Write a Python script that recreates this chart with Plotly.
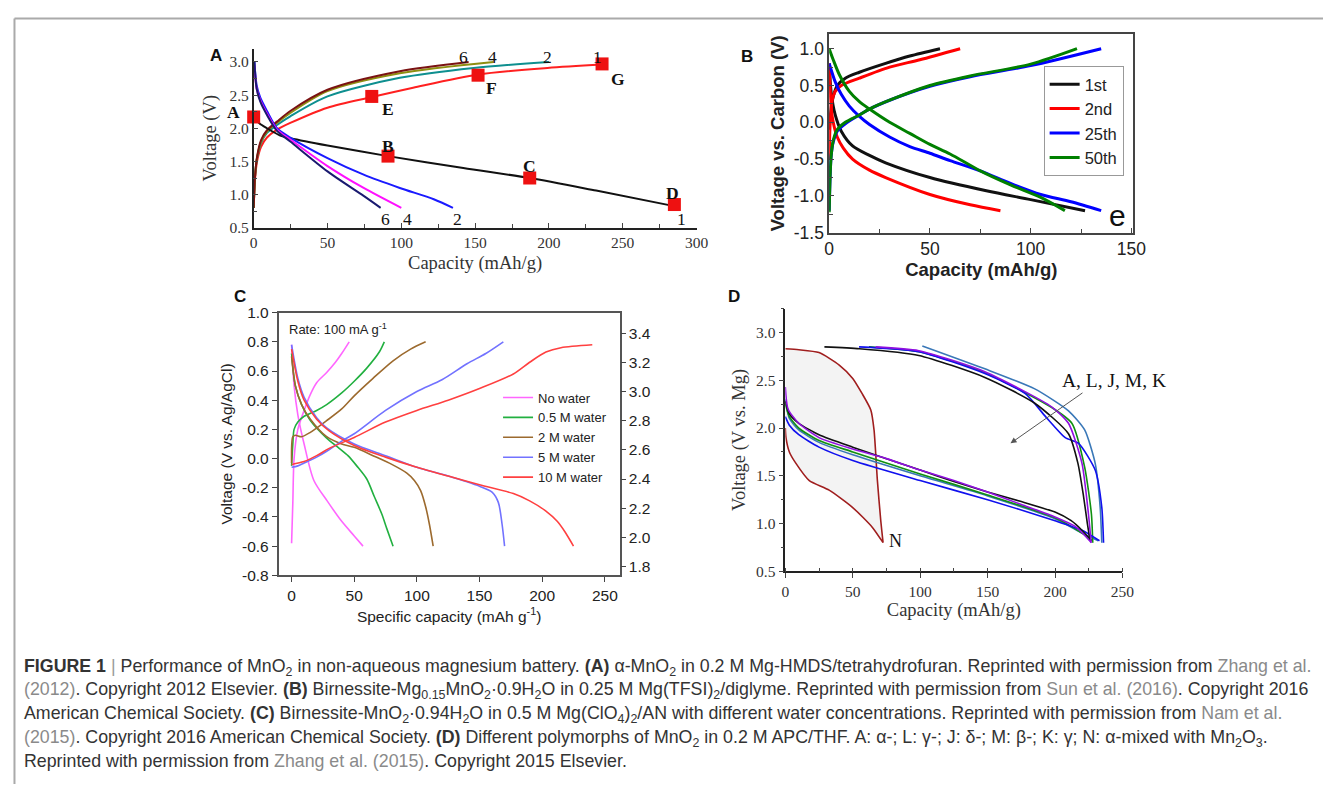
import plotly.graph_objects as go

# Figure size, and the measured mapping from figure pixels to photographed pixels
W, H = 1328, 786
SX, OXS = 0.989, 11.7
SY, OYS = 0.977, 16.0


def px(x):
    return min(max((x - OXS) / SX / W, 0.0), 1.0)


def py(y):
    return min(max(1 - (y - OYS) / SY / H, 0.0), 1.0)


# ---------------- Panel A data ----------------
a_dis1_x = [0, 4, 9, 18, 25, 50, 91, 142, 187, 232, 284]
a_dis1_y = [2.17, 2.07, 2.0, 1.89, 1.85, 1.74, 1.58, 1.40, 1.25, 1.06, 0.83]
a_dis2_x = [0.5, 2, 4.5, 9, 15.8, 24.8, 50, 74.5, 99, 122, 135]
a_dis2_y = [3.0, 2.65, 2.46, 2.26, 2.0, 1.86, 1.55, 1.30, 1.10, 0.93, 0.8]
a_dis4_x = [0.5, 2, 4.5, 9, 15.8, 24.8, 50, 74.5, 100]
a_dis4_y = [2.95, 2.6, 2.42, 2.22, 1.98, 1.83, 1.43, 1.10, 0.8]
a_dis6_x = [0.5, 2, 4.5, 9, 15.8, 24.8, 50, 74.5, 86]
a_dis6_y = [3.0, 2.6, 2.4, 2.2, 1.96, 1.8, 1.35, 0.98, 0.8]
a_chg1_x = [0, 1, 2.3, 5, 9, 15.8, 24.8, 50, 80, 108, 152, 199, 236]
a_chg1_y = [0.8, 1.25, 1.5, 1.72, 1.86, 1.98, 2.08, 2.31, 2.47, 2.61, 2.81, 2.91, 2.96]
a_chg2_x = [0, 1, 2.3, 5, 9, 15.8, 24.8, 50, 99, 149, 200]
a_chg2_y = [0.8, 1.3, 1.55, 1.78, 1.93, 2.05, 2.18, 2.48, 2.76, 2.91, 3.0]
a_chg4_x = [0, 1, 2.3, 5, 9, 15.8, 24.8, 50, 99, 162.5]
a_chg4_y = [0.8, 1.3, 1.56, 1.8, 1.95, 2.08, 2.23, 2.56, 2.83, 3.0]
a_chg6_x = [0, 1, 2.3, 5, 9, 15.8, 24.8, 50, 99, 145.6]
a_chg6_y = [0.8, 1.3, 1.57, 1.82, 1.97, 2.1, 2.26, 2.58, 2.86, 3.0]
a_mark_labels = ["A", "B", "C", "D", "E", "F", "G"]
a_mark_x = [0, 91, 187, 285, 80, 152, 236]
a_mark_y = [2.17, 1.58, 1.25, 0.85, 2.48, 2.80, 2.97]
a_mlab_x = [-8, 91, 187, 284, 91, 161, 247]
a_mlab_y = [2.24, 1.73, 1.43, 1.03, 2.29, 2.60, 2.74]
a_top_x = [142, 162, 199, 233]
a_top_t = ["6", "4", "2", "1"]
a_bot_x = [89, 104, 138, 290]
a_bot_t = ["6", "4", "2", "1"]
a_yticks = [0.5, 1.0, 1.5, 2.0, 2.5, 3.0]
a_xticks = [0, 50, 100, 150, 200, 250, 300]

# ---------------- Panel B data ----------------
b_names = ["1st", "2nd", "25th", "50th"]
b_chg1_x = [0, 1, 2, 4, 8, 15, 28, 40, 55]
b_chg1_y = [-0.1, 0.2, 0.35, 0.5, 0.6, 0.68, 0.8, 0.9, 1.0]
b_dis1_x = [0, 1, 3, 6, 11.6, 20, 28, 50, 78, 100, 127]
b_dis1_y = [0.8, 0.4, 0.1, -0.12, -0.32, -0.45, -0.55, -0.75, -0.93, -1.05, -1.2]
b_chg2_x = [0, 0.5, 1.5, 3, 6, 15, 30, 45, 65]
b_chg2_y = [-0.5, 0.0, 0.3, 0.42, 0.5, 0.6, 0.75, 0.85, 1.0]
b_dis2_x = [0, 1, 2, 4, 7, 11.6, 20, 28, 50, 70, 85]
b_dis2_y = [0.8, 0.2, 0.0, -0.2, -0.35, -0.5, -0.65, -0.75, -0.98, -1.12, -1.2]
b_chg25_x = [0, 0.5, 1, 2, 4, 8, 15, 20, 30, 50, 70, 100, 135]
b_chg25_y = [-1.2, -0.7, -0.45, -0.27, -0.12, -0.02, 0.1, 0.18, 0.3, 0.49, 0.62, 0.77, 1.0]
b_dis25_x = [0, 3, 6, 10, 15, 20, 30, 40, 50, 60, 75, 90, 105, 120, 135]
b_dis25_y = [0.8, 0.55, 0.38, 0.22, 0.08, -0.03, -0.2, -0.33, -0.42, -0.52, -0.66, -0.83, -0.98, -1.08, -1.2]
b_chg50_x = [0, 0.5, 1, 2, 4, 8, 15, 20, 30, 50, 70, 100, 123]
b_chg50_y = [-1.22, -0.7, -0.45, -0.25, -0.1, 0.0, 0.1, 0.18, 0.3, 0.5, 0.63, 0.79, 1.0]
b_dis50_x = [0, 2, 5, 10, 15, 20, 30, 40, 50, 60, 75, 90, 105, 117]
b_dis50_y = [1.0, 0.85, 0.65, 0.42, 0.28, 0.18, 0.0, -0.15, -0.3, -0.43, -0.66, -0.85, -1.02, -1.2]
b_yticks = [-1.5, -1.0, -0.5, 0.0, 0.5, 1.0]
b_yticktext = ["-1.5", "-1.0", "-0.5", "0.0", "0.5", "1.0"]
b_xticks = [0, 50, 100, 150]

# ---------------- Panel C data ----------------
c_names = ["No water", "0.5 M water", "2 M water", "5 M water", "10 M water"]
c_chg0_x = [0, 1, 2, 5, 10, 15, 20, 28, 35, 40, 46]
c_chg0_y = [-0.58, -0.3, 0.0, 0.2, 0.33, 0.44, 0.52, 0.59, 0.66, 0.72, 0.8]
c_dis0_x = [0, 2, 5, 10, 17.8, 28.4, 40, 50, 57]
c_dis0_y = [0.78, 0.5, 0.3, 0.1, -0.15, -0.29, -0.43, -0.53, -0.6]
c_chg05_x = [0, 1, 2, 5, 10, 20, 28, 40, 50, 60, 70, 74]
c_chg05_y = [-0.05, 0.1, 0.2, 0.25, 0.29, 0.33, 0.37, 0.45, 0.53, 0.62, 0.73, 0.8]
c_dis05_x = [0, 3, 8, 15, 28, 38, 45, 52, 60, 66, 72, 76, 81]
c_dis05_y = [0.72, 0.5, 0.37, 0.26, 0.14, 0.07, 0.02, -0.05, -0.14, -0.26, -0.38, -0.48, -0.6]
c_chg2_x = [0, 1, 3, 8, 15, 28, 40, 50, 65, 81, 95, 107]
c_chg2_y = [-0.03, 0.15, 0.16, 0.15, 0.18, 0.26, 0.34, 0.43, 0.55, 0.67, 0.75, 0.8]
c_dis2_x = [0, 3, 8, 15, 28, 40, 50, 65, 80, 92, 98, 103, 107, 110, 113]
c_dis2_y = [0.7, 0.5, 0.37, 0.27, 0.15, 0.1, 0.077, 0.02, -0.04, -0.1, -0.15, -0.22, -0.33, -0.45, -0.6]
c_chg5_x = [0, 5, 10, 20, 28, 40, 50, 75, 100, 120, 140, 155, 169]
c_chg5_y = [-0.06, -0.05, -0.03, 0.01, 0.05, 0.12, 0.17, 0.33, 0.46, 0.54, 0.65, 0.72, 0.8]
c_dis5_x = [0, 5, 10, 20, 28, 50, 75, 100, 125, 150, 160, 165, 168, 170]
c_dis5_y = [0.78, 0.55, 0.42, 0.28, 0.21, 0.1, 0.02, -0.06, -0.12, -0.19, -0.23, -0.3, -0.45, -0.6]
c_chg10_x = [0, 10, 20, 30, 50, 75, 100, 125, 150, 177, 190, 203, 215, 240]
c_chg10_y = [-0.04, -0.02, 0.02, 0.07, 0.145, 0.25, 0.33, 0.4, 0.48, 0.58, 0.66, 0.73, 0.76, 0.78]
c_dis10_x = [0, 5, 10, 20, 30, 50, 75, 100, 125, 150, 177, 190, 203, 212, 218, 225]
c_dis10_y = [0.75, 0.53, 0.4, 0.27, 0.19, 0.09, 0.01, -0.06, -0.12, -0.18, -0.24, -0.29, -0.36, -0.43, -0.5, -0.6]
c_yticks = [-0.8, -0.6, -0.4, -0.2, 0.0, 0.2, 0.4, 0.6, 0.8, 1.0]
c_yticktext = ["-0.8", "-0.6", "-0.4", "-0.2", "0.0", "0.2", "0.4", "0.6", "0.8", "1.0"]
c_y2ticks = [1.8, 2.0, 2.2, 2.4, 2.6, 2.8, 3.0, 3.2, 3.4]
c_xticks = [0, 50, 100, 150, 200, 250]

# ---------------- Panel D data ----------------
d_n_top_x = [0, 10, 25, 40, 50, 57, 63.4, 65.8, 68.3, 70.8, 72.5]
d_n_top_y = [2.83, 2.82, 2.79, 2.66, 2.52, 2.36, 2.19, 1.98, 1.45, 1.03, 0.8]
d_n_low_x = [0, 0.5, 3, 7.9, 17.8, 32.5, 49.8, 64.6, 72.5]
d_n_low_y = [2.0, 1.9, 1.75, 1.63, 1.45, 1.35, 1.17, 0.96, 0.8]
d_k_low_x = [0, 3, 10, 25, 50, 100, 125, 150, 175, 200, 212, 220, 227]
d_k_low_y = [2.28, 2.15, 2.05, 1.93, 1.8, 1.56, 1.44, 1.33, 1.23, 1.12, 1.03, 0.93, 0.82]
d_k_up_x = [29, 55, 99, 148, 185, 210, 217, 221, 224, 226]
d_k_up_y = [2.85, 2.83, 2.76, 2.53, 2.26, 1.94, 1.63, 1.3, 1.0, 0.82]
d_p_low_x = [0, 2, 10, 25, 50, 75, 100, 125, 150, 175, 200, 215, 227]
d_p_low_y = [2.43, 2.2, 2.05, 1.9, 1.78, 1.68, 1.56, 1.45, 1.33, 1.2, 1.07, 0.97, 0.8]
d_p_up_x = [67, 99, 148, 197.7, 210, 220, 224.8, 226.8]
d_p_up_y = [2.85, 2.81, 2.59, 2.22, 2.05, 1.63, 1.1, 0.8]
d_g_low_x = [0, 3, 10, 25, 50, 100, 150, 200, 220, 228]
d_g_low_y = [2.25, 2.12, 2.0, 1.87, 1.75, 1.52, 1.3, 1.06, 0.9, 0.82]
d_g_up_x = [62, 99, 148, 197, 212.5, 222, 227, 228]
d_g_up_y = [2.85, 2.8, 2.58, 2.22, 2.05, 1.59, 1.1, 0.8]
d_s_low_x = [0, 3, 10, 25, 50, 100, 150, 200, 220, 232]
d_s_low_y = [2.3, 2.1, 1.98, 1.85, 1.72, 1.5, 1.29, 1.05, 0.9, 0.82]
d_s_up_x = [101.6, 148, 185, 210, 222, 229.8, 233.5, 234.7]
d_s_up_y = [2.86, 2.62, 2.41, 2.18, 1.98, 1.63, 1.17, 0.8]
d_b_low_x = [0, 3, 10, 25, 50, 100, 150, 200, 220, 233]
d_b_low_y = [2.12, 2.03, 1.93, 1.8, 1.66, 1.45, 1.25, 1.03, 0.93, 0.82]
d_b_up_x = [54.7, 99, 148, 178, 193, 207.6, 217.5, 229.8, 234.7, 236]
d_b_up_y = [2.85, 2.8, 2.57, 2.36, 2.12, 1.9, 1.84, 1.56, 1.17, 0.8]
d_yticks = [0.5, 1.0, 1.5, 2.0, 2.5, 3.0]
d_xticks = [0, 50, 100, 150, 200, 250]

fig = go.Figure()
SERIF = "Liberation Serif"
SANS = "Liberation Sans"


def add_line(x, y, color, width, xa, ya, name=None, legend=None, show=False, group=None, smoothing=0.8):
    fig.add_trace(go.Scatter(
        x=x, y=y, mode="lines", xaxis=xa, yaxis=ya,
        line=dict(color=color, width=width, shape="spline", smoothing=smoothing),
        name=name, showlegend=show, legend=legend, legendgroup=group,
        hoverinfo="skip", cliponaxis=False))


# Panel A traces
add_line(a_chg1_x, a_chg1_y, "#ff2020", 2, "x", "y")
add_line(a_chg2_x, a_chg2_y, "#0e8f8f", 2, "x", "y")
add_line(a_chg4_x, a_chg4_y, "#8e8e10", 2, "x", "y")
add_line(a_chg6_x, a_chg6_y, "#7a1212", 2, "x", "y")
add_line(a_dis1_x, a_dis1_y, "#111111", 2, "x", "y")
add_line(a_dis2_x, a_dis2_y, "#1a1aff", 2, "x", "y")
add_line(a_dis4_x, a_dis4_y, "#ff10ff", 2, "x", "y")
add_line(a_dis6_x, a_dis6_y, "#1a1a70", 2, "x", "y")
fig.add_trace(go.Scatter(x=a_mark_x, y=a_mark_y, mode="markers", xaxis="x", yaxis="y",
                         marker=dict(symbol="square", size=13, color="#ee1111"),
                         showlegend=False, hoverinfo="skip", cliponaxis=False))

# Panel B traces
b_cols = ["#111111", "#ff0000", "#0000ff", "#008000"]
b_pairs = [(b_chg1_x, b_chg1_y, b_dis1_x, b_dis1_y), (b_chg2_x, b_chg2_y, b_dis2_x, b_dis2_y),
           (b_chg25_x, b_chg25_y, b_dis25_x, b_dis25_y), (b_chg50_x, b_chg50_y, b_dis50_x, b_dis50_y)]
for nm, col, (cx, cy, dx, dy) in zip(b_names, b_cols, b_pairs):
    add_line(cx, cy, col, 3, "x2", "y2", name=nm, legend="legend", show=True, group=nm)
    add_line(dx, dy, col, 3, "x2", "y2", name=nm, legend="legend", show=False, group=nm)

# Panel C traces
c_cols = ["#ff66ff", "#22b040", "#9c6a2e", "#7272ff", "#ff4040"]
c_pairs = [(c_chg0_x, c_chg0_y, c_dis0_x, c_dis0_y), (c_chg05_x, c_chg05_y, c_dis05_x, c_dis05_y),
           (c_chg2_x, c_chg2_y, c_dis2_x, c_dis2_y), (c_chg5_x, c_chg5_y, c_dis5_x, c_dis5_y),
           (c_chg10_x, c_chg10_y, c_dis10_x, c_dis10_y)]
for nm, col, (cx, cy, dx, dy) in zip(c_names, c_cols, c_pairs):
    add_line(cx, cy, col, 1.6, "x3", "y3", name=nm, legend="legend2", show=True, group=nm)
    add_line(dx, dy, col, 1.6, "x3", "y3", name=nm, legend="legend2", show=False, group=nm)

# Panel D traces
fig.add_trace(go.Scatter(x=d_n_top_x + d_n_low_x[::-1], y=d_n_top_y + d_n_low_y[::-1],
                         mode="lines", fill="toself", fillcolor="rgba(200,200,200,0.22)",
                         xaxis="x5", yaxis="y5",
                         line=dict(color="#a01e1e", width=1.6, shape="spline", smoothing=0.6),
                         showlegend=False, hoverinfo="skip"))
d_sets = [("#3a78b8", d_s_low_x, d_s_low_y, d_s_up_x, d_s_up_y),
          ("#109010", d_g_low_x, d_g_low_y, d_g_up_x, d_g_up_y),
          ("#1010ee", d_b_low_x, d_b_low_y, d_b_up_x, d_b_up_y),
          ("#111111", d_k_low_x, d_k_low_y, d_k_up_x, d_k_up_y),
          ("#9010e0", d_p_low_x, d_p_low_y, d_p_up_x, d_p_up_y)]
for col, lx, ly, ux, uy in d_sets:
    add_line(lx, ly, col, 1.6, "x5", "y5", smoothing=0.6)
    add_line(ux, uy, col, 1.6, "x5", "y5", smoothing=0.6)

ann = []
# Panel labels
for t, x, y in [("A", 207, 43), ("B", 748, 44), ("C", 231, 296), ("D", 735, 296)]:
    ann.append(dict(text=f"<b>{t}</b>", x=px(x), y=py(y), xref="paper", yref="paper",
                    showarrow=False, font=dict(family=SANS, size=17, color="#111")))
# Panel A point labels (the first one sits left of the axis, so it uses the domain reference)
for t, x, y in zip(a_mark_labels, a_mlab_x, a_mlab_y):
    if x < 0:
        ann.append(dict(text=f"<b>{t}</b>", x=x / 300, y=y, xref="x domain", yref="y",
                        xanchor="right", showarrow=False,
                        font=dict(family=SERIF, size=17.5, color="#111")))
    else:
        ann.append(dict(text=f"<b>{t}</b>", x=x, y=y, xref="x", yref="y", showarrow=False,
                        font=dict(family=SERIF, size=17.5, color="#111")))
for t, x in zip(a_top_t, a_top_x):
    ann.append(dict(text=t, x=x, y=1.02, xref="x", yref="y domain", showarrow=False,
                    font=dict(family=SERIF, size=17.5, color="#111")))
for t, x in zip(a_bot_t, a_bot_x):
    ann.append(dict(text=t, x=x, y=0.63, xref="x", yref="y", showarrow=False,
                    font=dict(family=SERIF, size=17.5, color="#111")))
# Panel B "e"
ann.append(dict(text="e", x=143, y=-1.27, xref="x2", yref="y2", showarrow=False,
                font=dict(family=SANS, size=30, color="#111")))
# Panel C rate
ann.append(dict(text="Rate: 100 mA g<sup>-1</sup>", x=-4, y=0.89, xref="x3", yref="y3",
                xanchor="left", showarrow=False, font=dict(family=SANS, size=13, color="#222")))
# Panel D
ann.append(dict(text="A, L, J, M, K", x=204, y=2.5, xref="x5", yref="y5", xanchor="left",
                showarrow=False, font=dict(family=SERIF, size=19.5, color="#111")))
ann.append(dict(text=" ", x=167, y=1.84, ax=222.6, ay=2.39, xref="x5", yref="y5",
                axref="x5", ayref="y5", showarrow=True, arrowhead=2, arrowsize=1.2,
                arrowwidth=1, arrowcolor="#555"))
ann.append(dict(text="N", x=82, y=0.82, xref="x5", yref="y5", showarrow=False,
                font=dict(family=SERIF, size=18, color="#111")))

# Caption
GR = "#8a8a8a"
cap_lines = [
    "<b>FIGURE 1</b> <span style='color:#999'>|</span> Performance of MnO<sub>2</sub> in non-aqueous magnesium battery. "
    "<b>(A)</b> α-MnO<sub>2</sub> in 0.2 M Mg-HMDS/tetrahydrofuran. Reprinted with permission from "
    f"<span style='color:{GR}'>Zhang et al.</span>",
    f"<span style='color:{GR}'>(2012)</span>. Copyright 2012 Elsevier. <b>(B)</b> Birnessite-Mg<sub>0.15</sub>MnO<sub>2</sub>·0.9H<sub>2</sub>O "
    f"in 0.25 M Mg(TFSI)<sub>2</sub>/diglyme. Reprinted with permission from <span style='color:{GR}'>Sun et al. (2016)</span>. Copyright 2016",
    "American Chemical Society. <b>(C)</b> Birnessite-MnO<sub>2</sub>·0.94H<sub>2</sub>O in 0.5 M Mg(ClO<sub>4</sub>)<sub>2</sub>/AN "
    f"with different water concentrations. Reprinted with permission from <span style='color:{GR}'>Nam et al.</span>",
    f"<span style='color:{GR}'>(2015)</span>. Copyright 2016 American Chemical Society. <b>(D)</b> Different polymorphs of MnO<sub>2</sub> "
    "in 0.2 M APC/THF. A: α-; L: γ-; J: δ-; M: β-; K: γ; N: α-mixed with Mn<sub>2</sub>O<sub>3</sub>.",
    f"Reprinted with permission from <span style='color:{GR}'>Zhang et al. (2015)</span>. Copyright 2015 Elsevier.",
]
cap_y = [667, 690, 714, 738, 761]
for t, y in zip(cap_lines, cap_y):
    ann.append(dict(text=t, x=px(21), y=py(y), xref="paper", yref="paper", xanchor="left",
                    yanchor="middle", showarrow=False, align="left",
                    font=dict(family=SANS, size=17.8, color="#333")))

shapes = [
    dict(type="line", xref="paper", yref="paper", x0=1.5 / W, x1=1, y0=1 - 1.5 / H, y1=1 - 1.5 / H,
         line=dict(color="#aaaaaa", width=2)),
    dict(type="line", xref="paper", yref="paper", x0=1.5 / W, x1=1.5 / W, y0=1 - 1.5 / H, y1=0,
         line=dict(color="#aaaaaa", width=2)),
]

serif_tick = dict(family=SERIF, size=15.5, color="#333")
sans_tick = dict(family=SANS, size=15.5, color="#222")

fig.update_layout(
    width=W, height=H, margin=dict(l=0, r=0, t=0, b=0),
    paper_bgcolor="white", plot_bgcolor="white",
    annotations=ann, shapes=shapes,
    # Panel A
    xaxis=dict(domain=[px(253), px(697)], range=[0, 300], anchor="y",
               tickvals=a_xticks, ticks="inside", ticklen=5,
               minor=dict(dtick=25, ticks="inside", ticklen=4), showline=True, linecolor="#222",
               linewidth=1.5, showgrid=False, zeroline=False, tickfont=serif_tick,
               title=dict(text="Capacity (mAh/g)", font=dict(family=SERIF, size=18.5, color="#333"), standoff=6)),
    yaxis=dict(domain=[py(227), py(47.7)], range=[0.5, 3.2], anchor="x",
               tickvals=a_yticks, ticks="inside", ticklen=5, tickformat=".1f",
               minor=dict(dtick=0.25, ticks="inside", ticklen=4), showline=True, linecolor="#222",
               linewidth=1.5, showgrid=False, zeroline=False, tickfont=serif_tick,
               title=dict(text="Voltage (V)", font=dict(family=SERIF, size=18.5, color="#333"), standoff=8)),
    # Panel B
    xaxis2=dict(domain=[px(830), px(1135)], range=[0, 151], anchor="y2",
                tickvals=b_xticks, ticks="inside", ticklen=5,
                minor=dict(dtick=25, ticks="inside", ticklen=4),
                showline=True, mirror=True, linecolor="#444", linewidth=1.5,
                showgrid=False, zeroline=False, tickfont=dict(family=SANS, size=17.5, color="#222"),
                title=dict(text="<b>Capacity (mAh/g)</b>", font=dict(family=SANS, size=18.5, color="#222"), standoff=4)),
    yaxis2=dict(domain=[py(232), py(33)], range=[-1.5, 1.2], anchor="x2",
                tickvals=b_yticks, ticktext=b_yticktext, ticks="inside", ticklen=5,
                minor=dict(dtick=0.25, ticks="inside", ticklen=4),
                showline=True, mirror=True, linecolor="#444", linewidth=1.5,
                showgrid=False, zeroline=False, tickfont=dict(family=SANS, size=17.5, color="#222"),
                title=dict(text="<b>Voltage vs. Carbon (V)</b>", font=dict(family=SANS, size=18.5, color="#222"), standoff=4)),
    # Panel C
    xaxis3=dict(domain=[px(278), px(620)], range=[-10.35, 261.9], anchor="y3",
                tickvals=c_xticks, ticks="outside", ticklen=5,
                showline=True, mirror=True, linecolor="#555", linewidth=1.5,
                showgrid=False, zeroline=False, tickfont=sans_tick,
                title=dict(text="Specific capacity (mAh g<sup>-1</sup>)", font=dict(family=SANS, size=15.5, color="#222"), standoff=8)),
    yaxis3=dict(domain=[py(575), py(312)], range=[-0.8, 1.0], anchor="x3",
                tickvals=c_yticks, ticktext=c_yticktext,
                ticks="outside", ticklen=5,
                showline=True, mirror=True, linecolor="#555", linewidth=1.5,
                showgrid=False, zeroline=False, tickfont=sans_tick,
                title=dict(text="Voltage (V vs. Ag/AgCl)", font=dict(family=SANS, size=15.5, color="#222"), standoff=6)),
    yaxis4=dict(overlaying="y3", side="right", anchor="x3", range=[1.74, 3.54],
                tickvals=c_y2ticks, tickformat=".1f",
                ticks="outside", ticklen=5, showline=False, showgrid=False, zeroline=False,
                tickfont=sans_tick),
    # Panel D
    xaxis5=dict(domain=[px(786), px(1124)], range=[0, 250], anchor="y5",
                tickvals=d_xticks, ticks="outside", ticklen=5,
                minor=dict(dtick=25, ticks="inside", ticklen=4),
                showline=True, linecolor="#222", linewidth=1.5,
                showgrid=False, zeroline=False, tickfont=serif_tick,
                title=dict(text="Capacity (mAh/g)", font=dict(family=SERIF, size=18.5, color="#333"), standoff=4)),
    yaxis5=dict(domain=[py(571), py(308)], range=[0.5, 3.25], anchor="x5",
                tickvals=d_yticks, tickformat=".1f", ticks="outside", ticklen=5,
                minor=dict(dtick=0.25, ticks="outside", ticklen=3),
                showline=True, linecolor="#222", linewidth=1.5,
                showgrid=False, zeroline=False, tickfont=serif_tick,
                title=dict(text="Voltage (V vs. Mg)", font=dict(family=SERIF, size=18.5, color="#333"), standoff=6)),
    legend=dict(x=px(1045), y=py(65), xanchor="left", yanchor="top", bgcolor="white",
                bordercolor="#999", borderwidth=1, font=dict(family=SANS, size=16.5, color="#222"),
                itemwidth=30, tracegroupgap=0),
    legend2=dict(x=px(498), y=py(382), xanchor="left", yanchor="top", bgcolor="rgba(0,0,0,0)",
                 borderwidth=0, font=dict(family=SANS, size=13, color="#222"),
                 itemwidth=30, tracegroupgap=0),
)

fig.add_trace(go.Scatter(x=[None], y=[None], xaxis="x3", yaxis="y4", showlegend=False, hoverinfo="skip"))

fig.write_html("out.html")
